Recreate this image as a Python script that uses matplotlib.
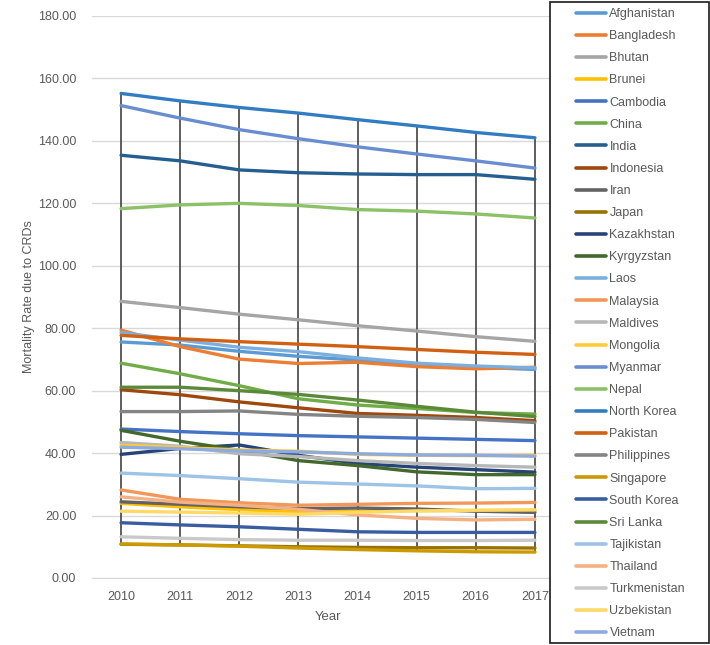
import matplotlib.pyplot as plt
from matplotlib.patches import Rectangle

anos = [2010, 2011, 2012, 2013, 2014, 2015, 2016, 2017]

afghanistan = [75.6, 74.6, 72.6, 71.0, 69.8, 68.3, 67.5, 66.8]
bangladesh = [79.4, 74.1, 70.1, 68.7, 69.1, 67.7, 67.0, 67.5]
bhutan = [88.6, 86.6, 84.5, 82.7, 80.8, 79.1, 77.3, 75.8]
brunei = [23.9, 22.8, 21.9, 21.2, 21.3, 21.6, 21.6, 21.7]
cambodia = [47.7, 46.9, 46.2, 45.6, 45.2, 44.8, 44.4, 44.0]
china = [68.8, 65.4, 61.6, 57.4, 55.4, 54.3, 53.0, 52.5]
india = [135.4, 133.6, 130.7, 129.8, 129.4, 129.2, 129.2, 127.7]
indonesia = [60.3, 58.7, 56.4, 54.5, 52.7, 52.1, 51.4, 50.4]
iran = [24.4, 23.6, 22.8, 22.2, 22.4, 22.1, 21.4, 21.0]
japan = [10.8, 10.6, 10.3, 10.0, 9.8, 9.7, 9.7, 9.6]
kazakhstan = [39.6, 41.5, 42.6, 39.3, 36.7, 35.5, 34.7, 33.9]
kyrgyzstan = [47.3, 43.8, 40.9, 37.6, 36.0, 34.0, 33.1, 33.1]
laos = [78.6, 76.2, 73.9, 72.5, 70.5, 68.8, 67.9, 67.3]
malaysia = [28.2, 25.2, 24.1, 23.3, 23.6, 23.9, 24.0, 24.2]
maldives = [43.4, 42.2, 39.8, 38.9, 37.6, 36.7, 36.0, 35.5]
mongolia = [42.5, 41.8, 41.0, 40.6, 39.6, 39.3, 39.2, 39.3]
myanmar = [151.3, 147.3, 143.6, 140.7, 138.1, 135.8, 133.6, 131.3]
nepal = [118.3, 119.5, 120.0, 119.3, 118.0, 117.5, 116.6, 115.3]
north_korea = [155.2, 152.8, 150.7, 148.9, 146.8, 144.8, 142.7, 141.0]
pakistan = [77.7, 76.6, 75.7, 74.9, 74.1, 73.2, 72.3, 71.6]
philippines = [53.3, 53.3, 53.5, 52.4, 51.8, 51.4, 50.8, 49.8]
singapore = [10.9, 10.6, 10.2, 9.6, 9.1, 8.7, 8.4, 8.3]
south_korea = [17.7, 17.0, 16.4, 15.6, 14.8, 14.6, 14.6, 14.6]
sri_lanka = [61.1, 61.1, 60.0, 58.8, 57.0, 55.0, 53.1, 51.7]
tajikistan = [33.6, 32.8, 31.8, 30.7, 30.1, 29.5, 28.6, 28.7]
thailand = [26.0, 24.3, 23.3, 22.0, 20.2, 19.1, 18.6, 18.8]
turkmenistan = [13.2, 12.7, 12.3, 12.1, 12.1, 12.0, 12.0, 12.1]
uzbekistan = [21.4, 21.1, 20.8, 20.4, 21.0, 21.5, 21.7, 21.8]
vietnam = [41.9, 41.4, 40.7, 40.4, 39.8, 39.4, 39.3, 39.0]

paises = ["Afghanistan", "Bangladesh", "Bhutan", "Brunei", "Cambodia", "China",
          "India", "Indonesia", "Iran", "Japan", "Kazakhstan", "Kyrgyzstan",
          "Laos", "Malaysia", "Maldives", "Mongolia", "Myanmar", "Nepal",
          "North Korea", "Pakistan", "Philippines", "Singapore", "South Korea",
          "Sri Lanka", "Tajikistan", "Thailand", "Turkmenistan", "Uzbekistan",
          "Vietnam"]
series = [afghanistan, bangladesh, bhutan, brunei, cambodia, china, india,
          indonesia, iran, japan, kazakhstan, kyrgyzstan, laos, malaysia,
          maldives, mongolia, myanmar, nepal, north_korea, pakistan,
          philippines, singapore, south_korea, sri_lanka, tajikistan,
          thailand, turkmenistan, uzbekistan, vietnam]
cores = ["#5B9BD5", "#ED7D31", "#A5A5A5", "#FFC000", "#4472C4", "#70AD47",
         "#255E91", "#9E480E", "#636363", "#997300", "#264478", "#43682B",
         "#7CAFDD", "#F1975A", "#B7B7B7", "#FFCD33", "#698ED0", "#8CC168",
         "#327DC2", "#D26012", "#848484", "#CC9A00", "#3A5DA0", "#5A8A39",
         "#9DC3E6", "#F4B183", "#C9C9C9", "#FFD966", "#8FAADC"]

plt.rcParams['font.family'] = ['Liberation Sans', 'DejaVu Sans']
cinza_texto = "#595959"

fig = plt.figure(figsize=(7.1, 6.45), dpi=100)
ax = fig.add_axes([91.5 / 710, 67 / 645, 473 / 710, 562 / 645])

# linhas de maximo e minimo de cada ano
maximos = [max(s[i] for s in series) for i in range(len(anos))]
minimos = [min(s[i] for s in series) for i in range(len(anos))]
ax.vlines(anos, minimos, maximos, colors="#333333", linewidth=1.1, zorder=1.5)

for nome, valores, cor in zip(paises, series, cores):
    ax.plot(anos, valores, color=cor, linewidth=2.4, label=nome,
            solid_capstyle="round", solid_joinstyle="round", zorder=2)

ax.set_xlim(2009.5, 2017.5)
ax.set_ylim(0, 180)
ax.set_yticks(range(0, 181, 20))
ax.set_yticklabels([f"{v:.2f}" for v in range(0, 181, 20)])
ax.set_xticks(anos)
ax.grid(axis="y", color="#D9D9D9", linewidth=1.0, zorder=0)
ax.set_axisbelow(True)
for lado in ["top", "right", "left"]:
    ax.spines[lado].set_visible(False)
ax.spines["bottom"].set_color("#D9D9D9")
ax.tick_params(axis="both", length=0, labelsize=9, labelcolor=cinza_texto)
ax.tick_params(axis="y", pad=11)
ax.tick_params(axis="x", pad=9)
ax.set_ylabel("Mortality Rate due to CRDs", fontsize=9, color=cinza_texto)
ax.yaxis.set_label_coords(-0.119, 0.5)
ax.set_xlabel("Year", fontsize=9.5, color=cinza_texto)
ax.xaxis.set_label_coords(0.5, -0.0587)

# caixa da legenda
fig.patches.append(Rectangle((549.5 / 710, 2 / 645), 159 / 710, 641 / 645,
                             transform=fig.transFigure, facecolor="white",
                             edgecolor="#1A1A1A", linewidth=1.2, zorder=5))
leg = fig.legend(loc="upper left", bbox_to_anchor=(575.7 / 710, 1 - 8 / 645),
                 frameon=False, fontsize=9, labelcolor=cinza_texto,
                 handlelength=2.4, handletextpad=0.3, labelspacing=0.81,
                 borderpad=0, borderaxespad=0)
for linha in leg.get_lines():
    linha.set_linewidth(2.6)
leg.set_zorder(6)

plt.savefig("out.png", dpi=100)
plt.close()
